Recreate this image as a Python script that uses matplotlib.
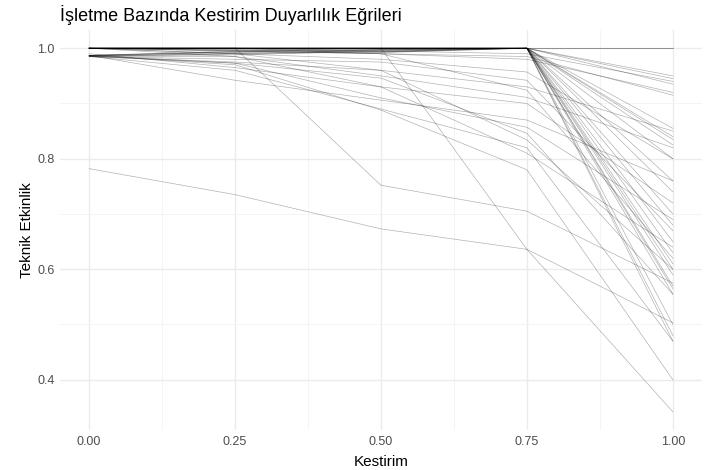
import matplotlib
matplotlib.use("Agg")
import matplotlib.pyplot as plt
from matplotlib.ticker import FixedLocator

plt.rcParams['font.family'] = ['Liberation Sans', 'DejaVu Sans']

cutoffs = [0.00, 0.25, 0.50, 0.75, 1.00]

# Technical efficiency per firm at each cutoff
firms = {
    "F01": [1.000, 1.000, 1.000, 1.000, 1.000],
    "F02": [1.000, 1.000, 1.000, 1.000, 1.000],
    "F05": [1.000, 1.000, 1.000, 1.000, 0.950],
    "F06": [0.987, 0.995, 1.000, 1.000, 0.945],
    "F07": [1.000, 1.000, 0.995, 0.990, 0.940],
    "F08": [1.000, 1.000, 1.000, 1.000, 0.935],
    "F09": [1.000, 0.995, 0.990, 0.985, 0.915],
    "F10": [0.986, 0.990, 0.997, 1.000, 0.855],
    "F11": [1.000, 1.000, 1.000, 1.000, 0.840],
    "F12": [0.987, 0.993, 0.998, 1.000, 0.835],
    "F13": [1.000, 1.000, 1.000, 1.000, 0.825],
    "F14": [0.986, 0.988, 0.995, 1.000, 0.800],
    "F15": [1.000, 1.000, 1.000, 1.000, 0.760],
    "F16": [1.000, 0.998, 0.996, 1.000, 0.740],
    "F17": [1.000, 1.000, 1.000, 1.000, 0.700],
    "F18": [0.987, 0.992, 0.994, 1.000, 0.680],
    "F19": [1.000, 1.000, 1.000, 1.000, 0.650],
    "F20": [1.000, 0.997, 0.992, 1.000, 0.630],
    "F21": [1.000, 1.000, 1.000, 1.000, 0.610],
    "F22": [0.986, 0.990, 0.993, 1.000, 0.600],
    "F23": [1.000, 1.000, 1.000, 1.000, 0.590],
    "F24": [1.000, 1.000, 0.998, 1.000, 0.570],
    "F25": [1.000, 1.000, 1.000, 1.000, 0.565],
    "F26": [0.987, 0.994, 0.997, 1.000, 0.555],
    "F27": [1.000, 1.000, 1.000, 1.000, 0.500],
    "F28": [1.000, 0.996, 0.994, 1.000, 0.480],
    "F29": [1.000, 1.000, 1.000, 1.000, 0.470],
    "F30": [0.985, 0.975, 0.960, 0.930, 0.850],
    "F31": [0.987, 0.942, 0.906, 0.870, 0.760],
    "F32": [0.990, 0.965, 0.930, 0.900, 0.720],
    "F33": [1.000, 0.985, 0.950, 0.911, 0.820],
    "F34": [0.987, 0.970, 0.888, 0.780, 0.400],
    "F35": [1.000, 1.000, 0.752, 0.705, 0.575],
    "F36": [1.000, 1.000, 1.000, 0.636, 0.342],
    "F37": [0.782, 0.735, 0.673, 0.636, 0.503],
    "F38": [1.000, 0.990, 0.980, 0.957, 0.800],
    "F39": [0.985, 0.980, 0.975, 0.942, 0.670],
    "F40": [1.000, 0.995, 0.990, 0.924, 0.620],
    "F41": [0.985, 0.973, 0.946, 0.846, 0.555],
    "F42": [1.000, 0.990, 0.960, 0.834, 0.600],
    "F43": [0.985, 0.985, 0.930, 0.810, 0.640],
    "F44": [1.000, 1.000, 0.990, 0.980, 0.920],
    "F45": [0.987, 0.973, 0.910, 0.857, 0.690],
    "F46": [0.985, 0.960, 0.890, 0.820, 0.470],
}

title = "İşletme Bazında Kestirim Duyarlılık Eğrileri"
xlabel = "Kestirim"
ylabel = "Teknik Etkinlik"
xticks = [0.00, 0.25, 0.50, 0.75, 1.00]
xticklabels = ["0.00", "0.25", "0.50", "0.75", "1.00"]
yticks = [0.4, 0.6, 0.8, 1.0]
yticklabels = ["0.4", "0.6", "0.8", "1.0"]

fig = plt.figure(figsize=(7.05, 4.70), dpi=100)
ax = fig.add_axes([60/705, 40/470, 642/705, 400/470])

for name, vals in firms.items():
    ax.plot(cutoffs, vals, color="black", alpha=0.3, linewidth=0.5)

ax.set_xlim(-0.05, 1.05)
ax.set_ylim(0.309, 1.033)
ax.set_xticks(xticks)
ax.set_xticklabels(xticklabels)
ax.set_yticks(yticks)
ax.set_yticklabels(yticklabels)
ax.xaxis.set_minor_locator(FixedLocator([0.125, 0.375, 0.625, 0.875]))
ax.yaxis.set_minor_locator(FixedLocator([0.5, 0.7, 0.9]))
ax.grid(which="major", color="#EBEBEB", linewidth=1.0)
ax.grid(which="minor", color="#F3F3F3", linewidth=0.6)
ax.set_axisbelow(True)
for s in ax.spines.values():
    s.set_visible(False)
ax.tick_params(which="both", length=0, labelsize=9, labelcolor="#4D4D4D", pad=4)

ax.set_xlabel(xlabel, fontsize=11, color="black", labelpad=5)
ax.set_ylabel(ylabel, fontsize=11, color="black", labelpad=2)
fig.text(60/705, 1 - 15/470, title, fontsize=13, ha="left", va="center", color="black")

fig.savefig("out.png", dpi=100)
